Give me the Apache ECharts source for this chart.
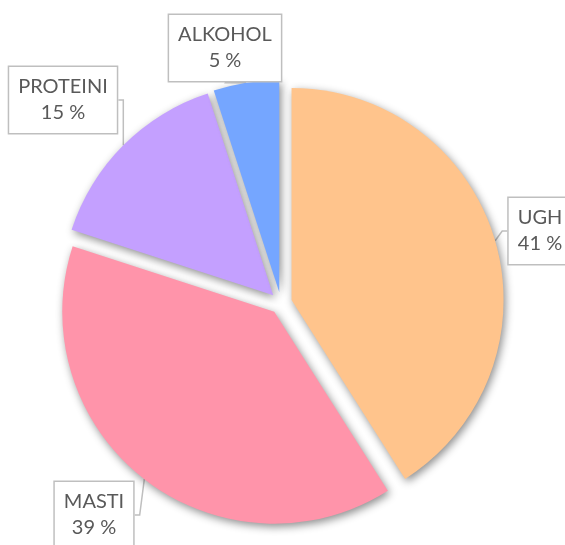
<!DOCTYPE html>
<html>
<head>
<meta charset="utf-8">
<script src="https://cdn.jsdelivr.net/npm/echarts@6/dist/echarts.min.js"></script>
<style>
html,body{margin:0;padding:0;background:#fff;}
#c{width:565px;height:545px;}
</style>
</head>
<body>
<div id="c"></div>
<script>
var categories = ['UGH', 'MASTI', 'PROTEINI', 'ALKOHOL'];
var values = [41, 39, 15, 5];
var colors = ['#FFC48C', '#FF94AA', '#C4A0FF', '#75A6FF'];
var labelCenters = [[540, 231], [94, 515], [63, 100], [225, 48]];

var baseCenter = [281, 303];
var explode = 11;
var radius = 212;

var chart = echarts.init(document.getElementById('c'), null, {renderer: 'canvas'});
var total = values.reduce(function (a, b) { return a + b; }, 0);
var cum = 0;
var series = categories.map(function (name, i) {
  var mid = (cum + values[i] / 2) / total * 2 * Math.PI;
  cum += values[i];
  var cx = baseCenter[0] + explode * Math.sin(mid);
  var cy = baseCenter[1] - explode * Math.cos(mid);
  return {
    type: 'pie',
    center: [cx, cy],
    radius: radius,
    startAngle: 90,
    clockwise: true,
    avoidLabelOverlap: false,
    silent: true,
    z: 2,
    data: categories.map(function (n, j) {
      var on = (j === i);
      return {
        name: n,
        value: values[j],
        itemStyle: on ? {
          color: colors[j],
          shadowBlur: 8,
          shadowColor: 'rgba(0,0,0,0.45)',
          shadowOffsetX: 2,
          shadowOffsetY: 3
        } : {color: 'rgba(0,0,0,0)', shadowBlur: 0, shadowColor: 'rgba(0,0,0,0)'},
        label: {show: on},
        labelLine: {show: on}
      };
    }),
    itemStyle: {borderWidth: 0},
    label: {
      position: 'outside',
      formatter: '{b}\n{c} %',
      fontFamily: 'Lato',
      fontSize: 20,
      lineHeight: 26,
      color: '#595959',
      backgroundColor: '#ffffff',
      borderColor: '#bfbfbf',
      borderWidth: 1.5,
      padding: [7, 9, 7, 9],
      align: 'center'
    },
    labelLine: {
      length: 5,
      length2: 5,
      lineStyle: {color: '#bfbfbf', width: 1.5}
    },
    labelLayout: function (p) {
      var c = labelCenters[p.dataIndex];
      return {x: c[0], y: c[1], align: 'center', verticalAlign: 'middle'};
    }
  };
});
chart.setOption({animation: false, series: series});
</script>
</body>
</html>
